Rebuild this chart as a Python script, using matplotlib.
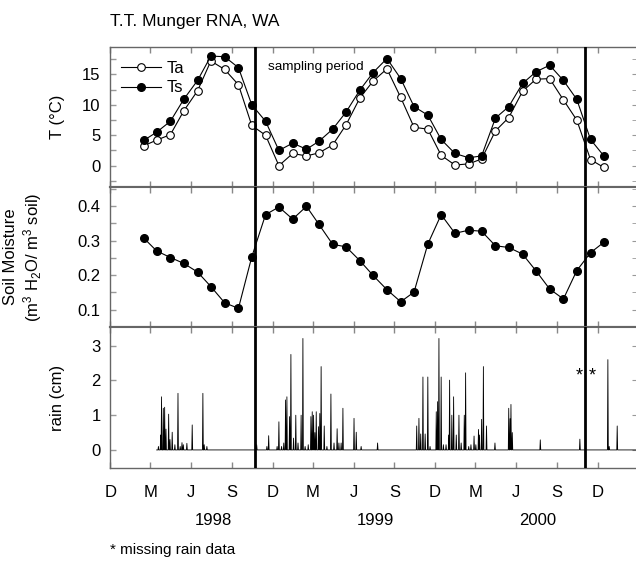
import datetime as dt
import numpy as np
import matplotlib
matplotlib.use('Agg')
import matplotlib.pyplot as plt
import matplotlib.dates as mdates
from matplotlib.ticker import MultipleLocator, FuncFormatter

plt.rcParams['font.family'] = ['Liberation Sans', 'DejaVu Sans']
plt.rcParams['mathtext.fontset'] = 'custom'
plt.rcParams['mathtext.rm'] = 'Liberation Sans'
plt.rcParams['mathtext.it'] = 'Liberation Sans:italic'

# monthly means, Feb 1998 - Dec 2000
months = [dt.date(1998 + m // 12, m % 12 + 1, 15) for m in range(1, 36)]
Ta = [3.3, 4.2, 5.1, 9.0, 12.3, 17.2, 15.8, 13.3, 6.6, 5.0, 0.0, 2.0, 1.6, 2.1, 3.4, 6.7, 11.1, 13.9,
      15.9, 11.2, 6.3, 6.0, 1.7, 0.1, 0.3, 1.1, 5.7, 7.9, 12.2, 14.2, 14.3, 10.8, 7.5, 1.0, -0.3]
Ts = [4.2, 5.5, 7.3, 10.9, 14.0, 18.0, 17.9, 16.1, 10.0, 7.3, 2.5, 3.7, 2.7, 4.0, 6.0, 8.8, 12.4, 15.3,
      17.6, 14.3, 9.7, 8.3, 4.3, 2.0, 1.3, 1.6, 7.8, 9.7, 13.5, 15.4, 16.5, 14.0, 10.9, 4.3, 1.6]
soil = [0.306, 0.270, 0.251, 0.234, 0.209, 0.167, 0.120, 0.104, 0.253, 0.375, 0.397, 0.362, 0.399,
        0.347, 0.289, 0.282, 0.242, 0.199, 0.158, 0.123, 0.151, 0.290, 0.375, 0.321, 0.330, 0.327,
        0.285, 0.280, 0.261, 0.213, 0.160, 0.131, 0.213, 0.265, 0.295]

# daily rain, days counted from 1 Dec 1997 (days not listed = 0)
day0 = dt.date(1997, 12, 1)
rain_first, rain_last = 104, 1186
rain_day = [108, 113, 115, 119, 122, 125, 131, 134, 139, 145, 152, 157, 161, 164, 172, 184, 208, 211,
            217, 329, 352, 356, 375, 379, 385, 390, 394, 397, 403, 406, 412, 417, 422, 429, 433, 438,
            445, 451, 454, 457, 460, 463, 468, 471, 474, 481, 487, 496, 503, 510, 514, 519, 523, 548,
            553, 564, 601, 689, 694, 698, 703, 708, 714, 719, 733, 736, 739, 744, 749, 755, 761, 763,
            768, 772, 778, 784, 789, 796, 799, 806, 811, 818, 822, 828, 830, 835, 839, 846, 865, 896,
            899, 901, 904, 967, 1056, 1119, 1122, 1140]
rain_cm = [0.1, 0.43, 1.53, 1.2, 1.23, 0.6, 1.03, 0.3, 0.51, 0.15, 1.63, 0.1, 0.21, 0.15, 0.19, 0.72,
           1.63, 0.15, 0.1, 0.15, 0.1, 0.41, 0.1, 0.81, 0.1, 0.2, 1.44, 1.53, 0.96, 2.75, 0.34, 1.0,
           0.2, 1.0, 3.21, 0.1, 0.15, 0.96, 1.1, 1.0, 0.5, 1.1, 0.67, 1.05, 2.4, 0.69, 0.1, 1.61, 0.2,
           0.61, 0.2, 0.2, 1.2, 0.91, 0.51, 0.1, 0.2, 0.69, 0.91, 0.46, 2.1, 0.46, 2.1, 0.1, 1.1, 1.39,
           3.21, 2.1, 0.15, 0.15, 0.43, 2.01, 1.0, 1.53, 0.43, 1.0, 0.2, 1.0, 2.22, 0.1, 0.15, 0.4,
           0.15, 0.59, 0.43, 0.88, 2.4, 0.69, 0.2, 1.2, 0.9, 1.31, 0.5, 0.29, 0.31, 2.6, 0.1, 0.69]

sampling = [dt.date(1998, 10, 23), dt.date(2000, 11, 2)]
missing = [dt.date(2000, 10, 21), dt.date(2000, 11, 19)]
years = ['1998', '1999', '2000']
tick_dates = [dt.date(1997 + (m + 11) // 12, (m + 11) % 12 + 1, 1) for m in range(0, 37, 3)]

days = np.arange(rain_first, rain_last + 1)
rain = np.zeros(len(days))
for d, v in zip(rain_day, rain_cm):
    rain[d - rain_first] = v
rain_dates = [day0 + dt.timedelta(days=int(d)) for d in days]

fig = plt.figure(figsize=(6.36, 5.61), dpi=100)
L, W = 0.1736, 0.829
ax1 = fig.add_axes([L, 0.6667, W, 0.2496])
ax2 = fig.add_axes([L, 0.4171, W, 0.2496])
ax3 = fig.add_axes([L, 0.1658, W, 0.2513])
axes = [ax1, ax2, ax3]

ax1.plot(months, Ta, '-o', color='black', lw=0.8, ms=5.5, mfc='white', mec='black', mew=0.8, label='Ta')
ax1.plot(months, Ts, '-o', color='black', lw=0.8, ms=5.5, label='Ts')
ax2.plot(months, soil, '-o', color='black', lw=0.8, ms=5.5)
ax3.plot(rain_dates, rain, color='black', lw=0.6)

ax1.set_ylim(-3.5, 19.5)
ax1.yaxis.set_major_locator(MultipleLocator(5))
ax1.yaxis.set_minor_locator(MultipleLocator(2.5))
ax2.set_ylim(0.05, 0.455)
ax2.yaxis.set_major_locator(MultipleLocator(0.1))
ax2.yaxis.set_minor_locator(MultipleLocator(0.05))
ax2.yaxis.set_major_formatter(FuncFormatter(lambda v, p: f'{v:.1f}'))
ax3.set_ylim(-0.52, 3.54)
ax3.yaxis.set_major_locator(MultipleLocator(1))

for ax in axes:
    ax.set_xlim(dt.date(1997, 12, 1), dt.date(2001, 3, 1))
    ax.set_xticks(tick_dates)
    ax.xaxis.set_major_formatter(FuncFormatter(lambda v, p: mdates.num2date(v).strftime('%b')[0]))
    for s in ax.spines.values():
        s.set_color('#666666')
        s.set_linewidth(1.0)
    ax.tick_params(axis='x', direction='in', top=True, bottom=True, length=4.5, width=1,
                   color='#888888', labelbottom=False, labelsize=12, pad=12)
    ax.tick_params(axis='y', which='both', direction='in', length=4.5, width=1,
                   color='#999999', labelsize=12, pad=7)
    for d in sampling:
        ax.axvline(d, color='black', lw=2, zorder=5)
    sec = ax.secondary_yaxis('right')
    sec.yaxis.set_major_locator(ax.yaxis.get_major_locator())
    sec.yaxis.set_minor_locator(ax.yaxis.get_minor_locator())
    sec.tick_params(which='both', direction='in', length=4.5, color='#999999', labelright=False)
ax1.spines['bottom'].set_linewidth(1.5)
ax2.spines['top'].set_linewidth(1.5)
ax2.spines['bottom'].set_linewidth(1.5)
ax3.spines['top'].set_linewidth(1.5)
ax3.tick_params(axis='x', labelbottom=True)

ax1.set_ylabel('T (°C)', fontsize=12)
ax2.set_ylabel('Soil Moisture\n(m$^3$ H$_2$O/ m$^3$ soil)', fontsize=12)
ax3.set_ylabel('rain (cm)', fontsize=12)
ax1.yaxis.set_label_coords(-0.086, 0.5)
ax2.yaxis.set_label_coords(-0.126, 0.5)
ax3.yaxis.set_label_coords(-0.086, 0.5)

ax1.legend(loc='upper left', bbox_to_anchor=(0.008, 0.945), frameon=False, fontsize=12,
           handlelength=2.4, handletextpad=0.3, labelspacing=0.25, borderaxespad=0)
ax1.text(dt.date(1998, 11, 20), 0.857, 'sampling period', transform=ax1.get_xaxis_transform(),
         fontsize=9.7, va='center', ha='left')

for d in missing:
    ax3.text(d, 2.12, '*', fontsize=13, ha='center', va='center')

for i, y in enumerate(years):
    ax3.text(dt.date(1998 + i, 7, 20), -0.376, y, transform=ax3.get_xaxis_transform(),
             fontsize=12, ha='center', va='center')

fig.text(0.173, 0.961, 'T.T. Munger RNA, WA', fontsize=12.5, ha='left', va='center')
fig.text(0.173, 0.012, '* missing rain data', fontsize=11, ha='left', va='baseline')

fig.savefig('out.png', dpi=100)
